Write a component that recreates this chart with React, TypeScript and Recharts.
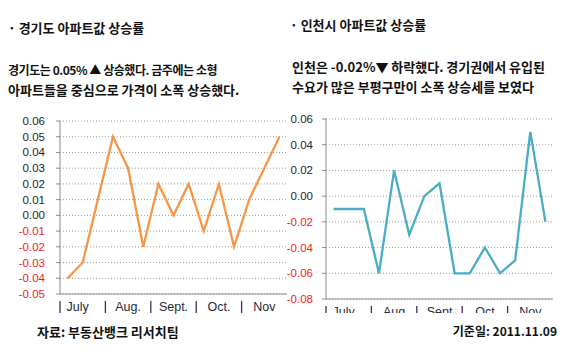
import { LineChart, Line, XAxis, YAxis, CartesianGrid } from "recharts";

// weekly categories, 3 weeks per month (Jul - Nov)
const weeks = ["7-1", "7-2", "7-3", "8-1", "8-2", "8-3", "9-1", "9-2", "9-3", "10-1", "10-2", "10-3", "11-1", "11-2", "11-3"];
const gyeonggi = [-0.04, -0.03, 0.01, 0.05, 0.03, -0.02, 0.02, 0.0, 0.02, -0.01, 0.02, -0.02, 0.01, 0.03, 0.05];
const incheon = [-0.01, -0.01, -0.01, -0.06, 0.02, -0.03, 0.0, 0.01, -0.06, -0.06, -0.04, -0.06, -0.05, 0.05, -0.02];

const monthTicks = ["7-2", "8-2", "9-2", "10-2", "11-2"];
const leftMonths = ["July", "Aug.", "Sept.", "Oct.", "Nov"];
const rightMonths = ["July", "Aug", "Sept", "Oct", "Nov"];

const leftYTicks = [-0.05, -0.04, -0.03, -0.02, -0.01, 0, 0.01, 0.02, 0.03, 0.04, 0.05, 0.06];
const rightYTicks = [-0.08, -0.06, -0.04, -0.02, 0, 0.02, 0.04, 0.06];

const leftData = weeks.map((w, i) => ({ week: w, value: gyeonggi[i] }));
const rightData = weeks.map((w, i) => ({ week: w, value: incheon[i] }));

const NUM_FONT = "'Liberation Sans', Arial, sans-serif";
const KR_FONT = "'Noto Sans CJK KR', 'Noto Sans', sans-serif";

const ValueTick = ({ x, y, payload }: any) => {
  const v = payload.value;
  return (
    <text x={x} y={y} dy={4} textAnchor="end" fontSize={11.5} fontFamily={NUM_FONT} fill={v < 0 ? "#f01c1c" : "#1f2330"}>
      {v.toFixed(2)}
    </text>
  );
};

// month label in the middle week, a separator at the month's start
const makeMonthTick = (labels: string[], step: number, top: number) => ({ x, y, payload, index }: any) => {
  const sep = x - 1.5 * step;
  const shift = index === 0 ? -5 : 0;
  return (
    <g>
      <line x1={sep} x2={sep} y1={y + top - 2} y2={y + top + 10} stroke="#3a2f62" strokeWidth={1.3} />
      <text x={x + shift} y={y + top + 8} textAnchor="middle" fontSize={12.5} fontFamily={NUM_FONT} fill="#2a2a3a">
        {labels[index]}
      </text>
    </g>
  );
};

const step = 227 / 15;

export default function App() {
  const title = { position: "absolute" as const, fontSize: 13, fontWeight: 700, whiteSpace: "nowrap" as const, lineHeight: "16px" };
  const line = { position: "absolute" as const, fontSize: 13, fontWeight: 700, whiteSpace: "nowrap" as const, lineHeight: "16px" };

  return (
    <div style={{ position: "absolute", left: 0, top: 0, width: 575, height: 358, background: "#fff", fontFamily: KR_FONT, color: "#111", overflow: "hidden" }}>
      <div style={{ ...title, left: 8, top: 20 }}>· 경기도 아파트값 상승률</div>
      <div style={{ ...line, left: 8, top: 62, fontSize: 12, letterSpacing: -0.45 }}>경기도는 0.05% ▲ 상승했다. 금주에는 소형</div>
      <div style={{ ...line, left: 8, top: 82 }}>아파트들을 중심으로 가격이 소폭 상승했다.</div>

      <div style={{ ...title, left: 290, top: 17 }}>· 인천시 아파트값 상승률</div>
      <div style={{ ...line, left: 292, top: 59 }}>인천은 -0.02%▼ 하락했다. 경기권에서 유입된</div>
      <div style={{ ...line, left: 292, top: 79 }}>수요가 많은 부평구만이 소폭 상승세를 보였다</div>

      {/* left chart */}
      <div style={{ position: "absolute", left: 0, top: 110 }}>
        <LineChart width={290} height={210} data={leftData} margin={{ top: 11, right: 3, left: 0, bottom: 6 }}>
          <CartesianGrid horizontal vertical={false} stroke="#9a9a9a" strokeDasharray="1 2" />
          <XAxis
            dataKey="week"
            ticks={monthTicks}
            interval={0}
            tickSize={0}
            tickMargin={0}
            height={20}
            padding={{ left: step / 2, right: step / 2 }}
            axisLine={{ stroke: "#8c8c8c" }}
            tick={makeMonthTick(leftMonths, step, 9)}
          />
          <YAxis
            domain={[-0.05, 0.06]}
            ticks={leftYTicks}
            interval={0}
            width={60}
            tickSize={4}
            tickMargin={11}
            axisLine={{ stroke: "#8c8c8c" }}
            tickLine={{ stroke: "#8c8c8c" }}
            tick={<ValueTick />}
          />
          <Line type="linear" dataKey="value" stroke="#f79646" strokeWidth={2.3} dot={false} isAnimationActive={false} />
        </LineChart>
      </div>

      {/* right chart, x labels clipped at the bottom */}
      <div style={{ position: "absolute", left: 280, top: 110, width: 295, height: 203, overflow: "hidden" }}>
        <LineChart width={295} height={220} data={rightData} margin={{ top: 9, right: 22, left: 0, bottom: 11 }}>
          <CartesianGrid horizontal vertical={false} stroke="#9a9a9a" strokeDasharray="1 2" />
          <XAxis
            dataKey="week"
            ticks={monthTicks}
            interval={0}
            tickSize={0}
            tickMargin={0}
            height={20}
            padding={{ left: step / 2, right: step / 2 }}
            axisLine={{ stroke: "#8c8c8c" }}
            tick={makeMonthTick(rightMonths, step, 9)}
          />
          <YAxis
            domain={[-0.08, 0.06]}
            ticks={rightYTicks}
            interval={0}
            width={46}
            tickSize={4}
            tickMargin={9}
            axisLine={{ stroke: "#8c8c8c" }}
            tickLine={{ stroke: "#8c8c8c" }}
            tick={<ValueTick />}
          />
          <Line type="linear" dataKey="value" stroke="#4bacc6" strokeWidth={2.3} dot={false} isAnimationActive={false} />
        </LineChart>
      </div>

      <div style={{ position: "absolute", left: 37, top: 322, fontSize: 13, fontWeight: 700, whiteSpace: "nowrap" }}>자료: 부동산뱅크 리서치팀</div>
      <div style={{ position: "absolute", right: 18, top: 322, fontSize: 12, fontWeight: 700, whiteSpace: "nowrap" }}>기준일: 2011.11.09</div>
    </div>
  );
}
